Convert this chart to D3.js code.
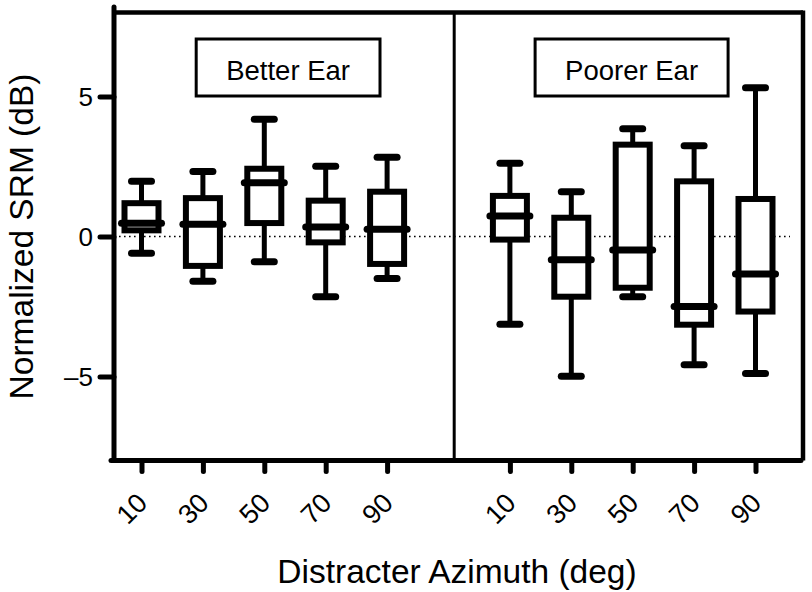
<!DOCTYPE html>
<html>
<head>
<meta charset="utf-8">
<script src="https://cdn.jsdelivr.net/npm/d3@7"></script>
<style>
  body { margin: 0; background: #fff; }
  text { font-family: "Liberation Sans", Arial, Helvetica, sans-serif; fill: #000; }
</style>
</head>
<body>
<div id="chart"></div>
<script>
// distracter azimuths (deg) and the two ear conditions
const azimuths = [10, 30, 50, 70, 90];
const panels = ["Better Ear", "Poorer Ear"];

// box plot stats per panel, in azimuth order (normalized SRM, dB)
const betterMin = [-0.6, -1.6, -0.9, -2.15, -1.5];
const betterQ1 = [0.22, -1.05, 0.48, -0.21, -0.98];
const betterMed = [0.47, 0.44, 1.92, 0.34, 0.26];
const betterQ3 = [1.19, 1.37, 2.42, 1.28, 1.6];
const betterMax = [1.97, 2.32, 4.19, 2.51, 2.83];

const poorerMin = [-3.13, -4.99, -2.15, -4.58, -4.89];
const poorerQ1 = [-0.11, -2.15, -1.83, -3.15, -2.68];
const poorerMed = [0.73, -0.83, -0.48, -2.5, -1.34];
const poorerQ3 = [1.45, 0.67, 3.28, 1.97, 1.34];
const poorerMax = [2.62, 1.6, 3.85, 3.24, 5.31];

const yTicks = [-5, 0, 5];

const width = 812,
  height = 592;

const svg = d3
  .select("#chart")
  .append("svg")
  .attr("width", width)
  .attr("height", height);

// build rows from the arrays
let data = [];
azimuths.forEach(function (a, i) {
  data.push({ key: "B" + a, panel: 0, az: a, min: betterMin[i], q1: betterQ1[i], med: betterMed[i], q3: betterQ3[i], max: betterMax[i] });
});
azimuths.forEach(function (a, i) {
  data.push({ key: "P" + a, panel: 1, az: a, min: poorerMin[i], q1: poorerQ1[i], med: poorerMed[i], q3: poorerQ3[i], max: poorerMax[i] });
});

const xKeys = azimuths.map((a) => "B" + a).concat(["gap"], azimuths.map((a) => "P" + a));

const x = d3.scalePoint().domain(xKeys).range([141.5, 755.5]);
const y = d3.scaleLinear().domain([-8, 8]).range([460.5, 12.5]);

const plotLeft = 114,
  plotRight = 803,
  plotTop = y(8),
  plotBottom = y(-8);
const divider = (x("gap") + x("P10")) / 2 - 25;

// frame: top, right, divider
svg.append("line")
  .attr("x1", plotLeft).attr("x2", plotRight)
  .attr("y1", plotTop).attr("y2", plotTop)
  .attr("stroke", "#000").attr("stroke-width", 4.5);
svg.append("line")
  .attr("x1", plotRight).attr("x2", plotRight)
  .attr("y1", plotTop - 2).attr("y2", plotBottom)
  .attr("stroke", "#000").attr("stroke-width", 4.5);
svg.append("line")
  .attr("x1", divider).attr("x2", divider)
  .attr("y1", plotTop).attr("y2", plotBottom)
  .attr("stroke", "#000").attr("stroke-width", 3);

// zero reference
svg.append("line")
  .attr("x1", plotLeft).attr("x2", 790)
  .attr("y1", y(0)).attr("y2", y(0))
  .attr("stroke", "#000").attr("stroke-width", 1.6)
  .attr("stroke-dasharray", "1.6,3.4");

// y axis
const yAxis = svg.append("g")
  .attr("transform", "translate(" + plotLeft + ",0)")
  .call(d3.axisLeft(y).tickValues(yTicks).tickSize(14).tickSizeOuter(0).tickPadding(7)
    .tickFormat((d) => (d < 0 ? "\u2013" + Math.abs(d) : d)));
yAxis.select(".domain").remove();
yAxis.selectAll(".tick line").attr("stroke", "#000").attr("stroke-width", 5).attr("stroke-linecap", "round");
yAxis.selectAll(".tick text").style("font-size", "26px").attr("dy", "0.36em");
yAxis.append("line")
  .attr("y1", y(8.2)).attr("y2", y(-8))
  .attr("stroke", "#000").attr("stroke-width", 5).attr("stroke-linecap", "round");

// x axis
const xAxis = svg.append("g")
  .attr("transform", "translate(0," + plotBottom + ")")
  .call(d3.axisBottom(x).tickValues(xKeys.filter((k) => k !== "gap")).tickSize(11).tickSizeOuter(0)
    .tickFormat((k) => k.slice(1)));
xAxis.select(".domain").remove();
xAxis.selectAll(".tick line").attr("stroke", "#000").attr("stroke-width", 5).attr("stroke-linecap", "round");
xAxis.selectAll(".tick text")
  .style("font-size", "27px")
  .attr("text-anchor", "end")
  .attr("y", 0).attr("dy", 0)
  .attr("transform", "translate(7,44) rotate(-45)");
xAxis.append("line")
  .attr("x1", plotLeft - 3).attr("x2", plotRight - 2)
  .attr("stroke", "#000").attr("stroke-width", 5).attr("stroke-linecap", "round");

// panel labels
panels.forEach(function (p, i) {
  const cx = i === 0 ? (plotLeft + divider) / 2 + 4 : (divider + plotRight) / 2 + 3;
  const g = svg.append("g");
  const t = g.append("text")
    .attr("x", cx).attr("y", 80)
    .attr("text-anchor", "middle")
    .style("font-size", "27.5px")
    .text(p);
  const bb = t.node().getBBox();
  g.insert("rect", "text")
    .attr("x", bb.x - 30).attr("width", bb.width + 60)
    .attr("y", 39).attr("height", 57)
    .attr("fill", "#fff").attr("stroke", "#000").attr("stroke-width", 3);
});

// boxes
const boxW = 34,
  medW = 40,
  capW = 20;

const box = svg.append("g").selectAll("g").data(data).join("g")
  .attr("transform", (d) => "translate(" + x(d.key) + ",0)");

box.append("line")
  .attr("y1", (d) => y(d.max)).attr("y2", (d) => y(d.min))
  .attr("stroke", "#000").attr("stroke-width", 5);

box.append("rect")
  .attr("x", -boxW / 2).attr("width", boxW)
  .attr("y", (d) => y(d.q3)).attr("height", (d) => y(d.q1) - y(d.q3))
  .attr("fill", "#fff").attr("stroke", "#000").attr("stroke-width", 6);

box.append("line")
  .attr("x1", -medW / 2).attr("x2", medW / 2)
  .attr("y1", (d) => y(d.med)).attr("y2", (d) => y(d.med))
  .attr("stroke", "#000").attr("stroke-width", 7).attr("stroke-linecap", "round");

["min", "max"].forEach(function (k) {
  box.append("line")
    .attr("x1", -capW / 2).attr("x2", capW / 2)
    .attr("y1", (d) => y(d[k])).attr("y2", (d) => y(d[k]))
    .attr("stroke", "#000").attr("stroke-width", 7).attr("stroke-linecap", "round");
});

// axis titles
svg.append("text")
  .attr("transform", "translate(33," + y(0) + ") rotate(-90)")
  .attr("text-anchor", "middle")
  .style("font-size", "33.5px")
  .text("Normalized SRM (dB)");

svg.append("text")
  .attr("x", 457).attr("y", 583)
  .attr("text-anchor", "middle")
  .style("font-size", "33.5px")
  .text("Distracter Azimuth (deg)");
</script>
</body>
</html>
